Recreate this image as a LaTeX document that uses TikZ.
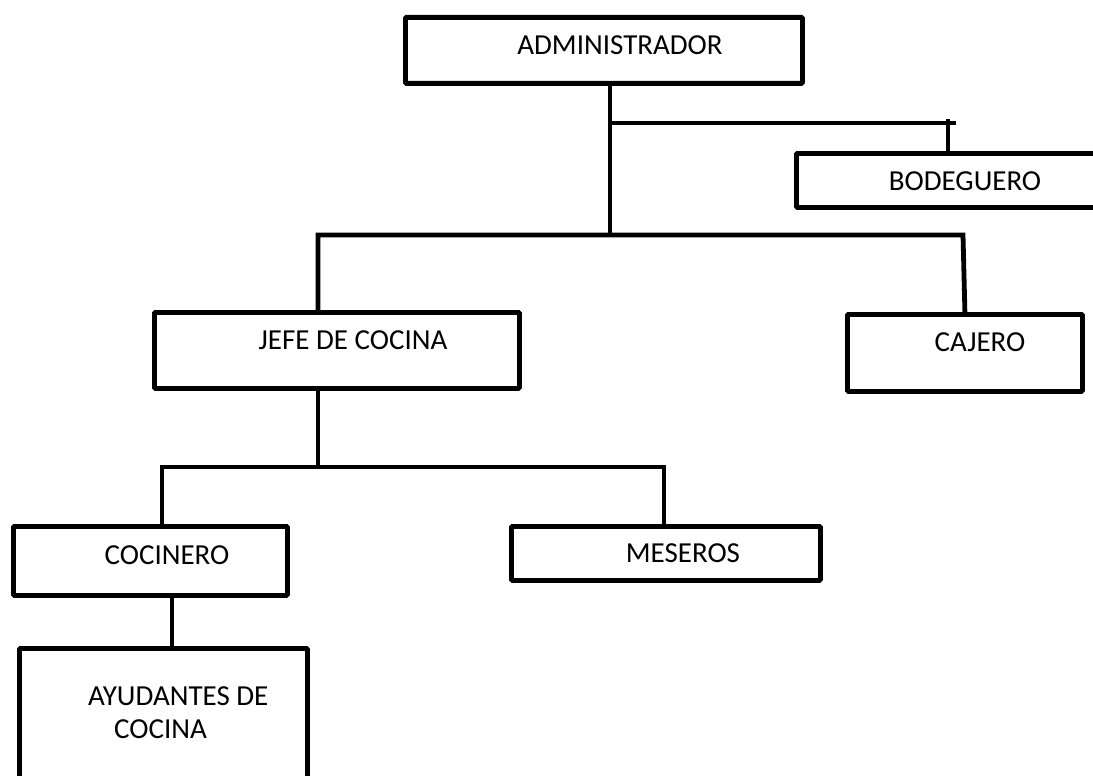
\documentclass[tikz,border=0pt]{standalone}
\usepackage{fontspec}
\setmainfont{Carlito}
\begin{document}
\begin{tikzpicture}[x=1pt,y=-1pt,
  box/.style={draw, line width=4.8pt, rounded corners=1pt, inner sep=0pt, anchor=north west},
  lbl/.style={font=\fontsize{29}{33}\selectfont, inner sep=0pt},
  conn/.style={line width=4.8pt, line cap=rect}]
\clip (0,0) rectangle (1093,776);
\fill[white] (0,0) rectangle (1093,776);
% boxes
\node[box, minimum width=397pt, minimum height=66pt] (admin) at (403,15) {};
\node[box, minimum width=400pt, minimum height=54pt] (bode) at (794,151) {};
\node[box, minimum width=365pt, minimum height=76pt] (jefe) at (152,310) {};
\node[box, minimum width=235pt, minimum height=77pt] (cajero) at (845,312) {};
\node[box, minimum width=274pt, minimum height=69pt] (coc) at (11,524) {};
\node[box, minimum width=309pt, minimum height=54pt] (mes) at (509,524) {};
\node[box, minimum width=288pt, minimum height=160pt] (ayu) at (17,646) {};
% labels
\node[lbl] (tadmin) at (620,45) {ADMINISTRADOR};
\node[lbl] (tbode) at (965,181) {BODEGUERO};
\node[lbl] (tjefe) at (353,340) {JEFE DE COCINA};
\node[lbl] (tcaj) at (980,342) {CAJERO};
\node[lbl] (tcoc) at (167,555) {COCINERO};
\node[lbl] (tmes) at (683,553) {MESEROS};
\node[lbl, align=left, anchor=west] (tayu) at (88,713) {AYUDANTES DE\\\hspace*{26pt}COCINA};
% connectors
\coordinate (j1) at (610,123);
\coordinate (j2) at (610,235);
\coordinate (b1) at (954,123);
\coordinate (b2) at (948,121);
\coordinate (h1) at (318,235);
\coordinate (h2) at (963,235);
\coordinate (k1) at (318,467);
\coordinate (k2) at (162,467);
\coordinate (k3) at (664,467);
\coordinate (c1) at (172,600);
\draw[conn] (admin.south -| j1) -- (j2);
\draw[conn] (j1) -- (b1);
\draw[conn] (b2) -- (b2 |- bode.north);
\draw[conn] (h1 |- jefe.north) -- (h1) -- (h2) -- (cajero.north);
\draw[conn] (h1 |- jefe.south) -- (k1);
\draw[conn] (coc.north -| k2) -- (k2) -- (k3) -- (mes.north -| k3);
\draw[conn] (coc.south -| c1) -- (ayu.north -| c1);
\end{tikzpicture}
\end{document}
